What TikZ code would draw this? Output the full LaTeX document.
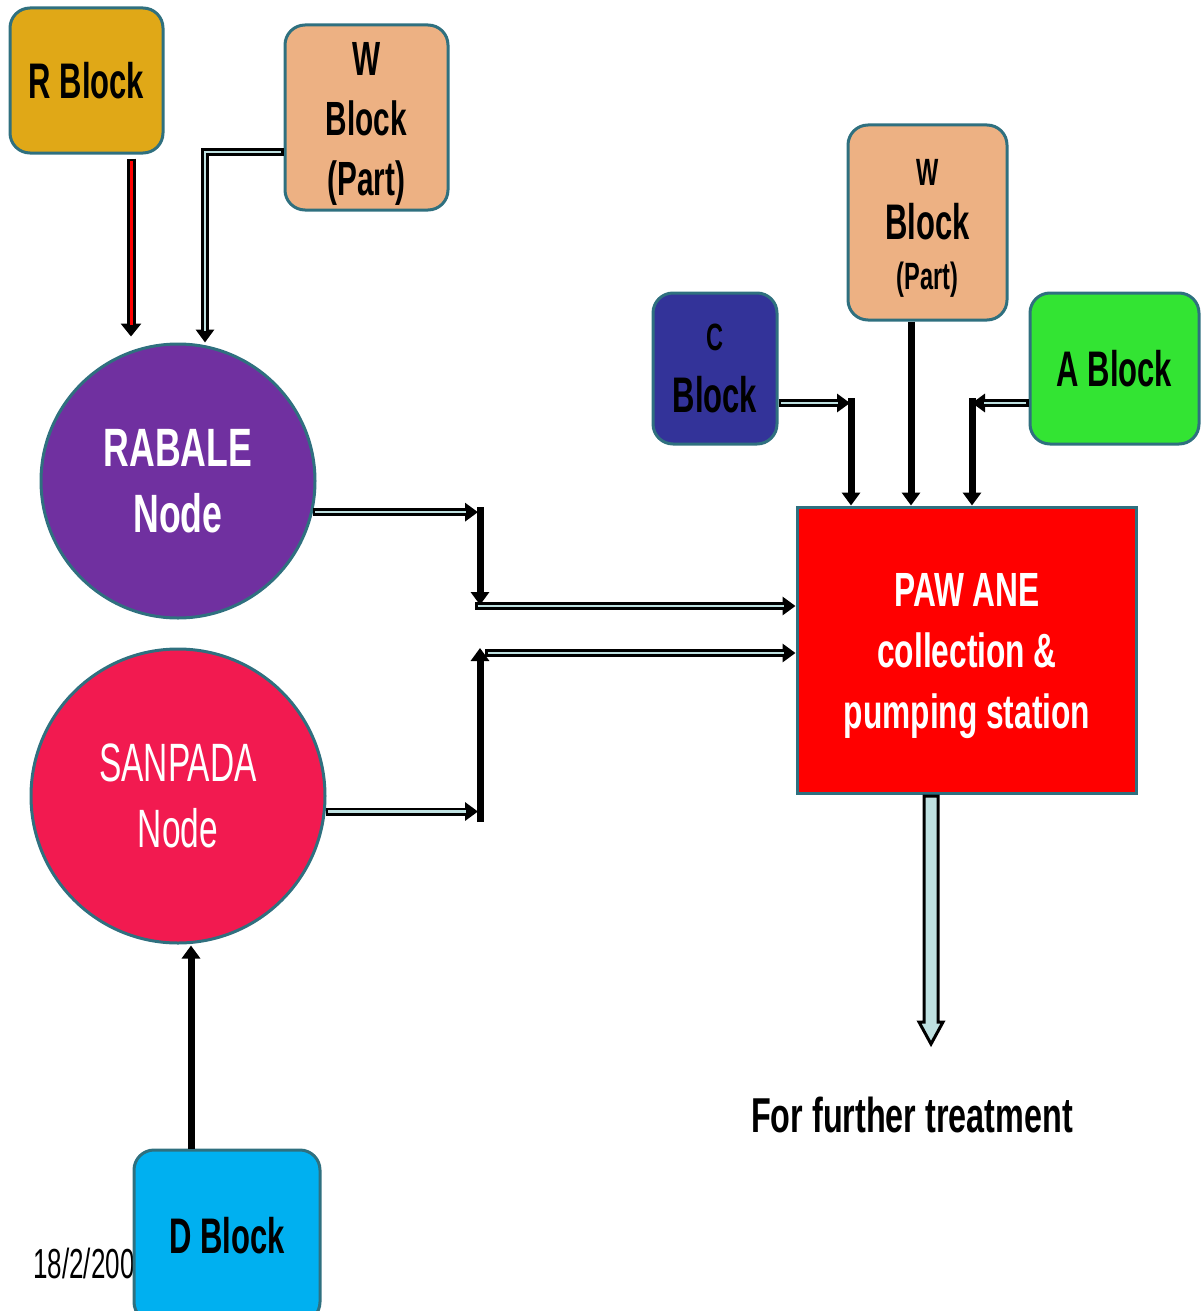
\documentclass[tikz,border=0pt]{standalone}
\usepackage{fontspec}
\setmainfont{Liberation Sans}
\newfontfamily\nf[FakeStretch=0.62]{Liberation Sans}
\newfontfamily\nfw[FakeStretch=0.66]{Liberation Sans}
\usetikzlibrary{arrows.meta,calc}
\definecolor{bord}{RGB}{47,112,127}
\definecolor{rgold}{RGB}{224,168,23}
\definecolor{peach}{RGB}{237,177,131}
\definecolor{rpurple}{RGB}{112,48,160}
\definecolor{rpink}{RGB}{242,26,80}
\definecolor{cblue}{RGB}{51,51,153}
\definecolor{agreen}{RGB}{51,228,51}
\definecolor{dblue}{RGB}{0,176,240}
\definecolor{acyan}{RGB}{190,225,225}
\begin{document}
\begin{tikzpicture}[x=1pt,y=-1pt,
  box/.style={draw=bord, line width=3pt, rounded corners=20pt, inner sep=0pt, align=center,
    font=\nf\bfseries\fontsize{50}{60}\selectfont},
  lbl/.style={inner sep=0pt, align=center},
  node circ/.style={circle, draw=bord, line width=3pt, inner sep=0pt, align=center, text=white,
    font=\nf\fontsize{54}{66}\selectfont},
  dconn/.style={line width=8pt, black, line join=miter, -{Triangle[length=13pt,width=18pt]},
    postaction={draw=acyan, line width=2.5pt, -, shorten >=12pt, shorten <=2.5pt}},
  rconn/.style={line width=9pt, black, -{Triangle[length=13pt,width=20pt]},
    postaction={draw=red, line width=3pt, -, shorten >=12pt, shorten <=2.5pt}},
  bar/.style={line width=7pt, black, -{Triangle[length=13pt,width=18pt]}},
  fat/.style={draw=black, line width=3pt, fill=acyan, line join=miter}
]
\useasboundingbox (0,0) rectangle (1201,1311);
\clip (0,0) rectangle (1201,1311);

% date (partly covered by D Block)
\node[anchor=base west, inner sep=0pt, font=\nf\fontsize{42}{50}\selectfont] (date) at (33,1278) {18/2/2009};

% blocks
\node[box, fill=rgold, minimum width=153pt, minimum height=145pt] (rb) at (86.5,80.5) {R Block};
\node[box, fill=peach, minimum width=163pt, minimum height=185pt] (wt) at (366.5,117.5) {};
\node[lbl, font=\nf\bfseries\fontsize{48}{60}\selectfont] (wttext) at (366.5,124) {W\\Block\\(Part)};
\node[box, fill=cblue, minimum width=124pt, minimum height=151pt] (cb) at (715,368.5)
   {{\fontsize{38}{44}\selectfont C}\\[2pt]Block};
\node[box, fill=peach, minimum width=159pt, minimum height=195pt] (wr) at (927.5,222.5) {};
\node[lbl, font=\nf\bfseries\fontsize{50}{56}\selectfont] (wrtext) at (927.5,228)
   {{\fontsize{38}{44}\selectfont W}\\[-2pt]Block\\[-6pt]{\fontsize{38}{46}\selectfont (Part)}};
\node[box, fill=agreen, minimum width=169pt, minimum height=151pt] (ab) at (1114.5,368.5) {A Block};
\node[box, fill=dblue, minimum width=186pt, minimum height=172pt] (db) at (227,1236) {D Block};

% circles
\node[node circ, fill=rpurple, minimum size=274pt, font=\nfw\bfseries\fontsize{54}{66}\selectfont] (rabale) at (178,481) {RABALE\\Node};
\node[node circ, fill=rpink, minimum size=294pt] (sanpada) at (178,796) {SANPADA\\Node};

% pumping station
\node[draw=bord, line width=3pt, fill=red, minimum width=339pt, minimum height=286pt, inner sep=0pt] (pw) at (966.5,650) {};
\node[lbl, text=white, font=\nfw\bfseries\fontsize{48}{61}\selectfont] (pwtext) at (967,656)
   {PAW\,ANE\\collection \&\\pumping station};

% final text
\node[font=\nfw\bfseries\fontsize{49}{60}\selectfont, inner sep=0pt] (further) at (912,1115) {For further treatment};

% junction coordinates
\coordinate (j1in) at (478,512);
\coordinate (j1top) at (480,507);
\coordinate (j1bot) at (480,605);
\coordinate (j1out) at (475,606);
\coordinate (j2in) at (478,810);
\coordinate (j2bot) at (480,822);
\coordinate (j2top) at (480,648);
\coordinate (j2out) at (485,653);
\coordinate (jc) at (850,403);
\coordinate (jctop) at (851,398);
\coordinate (ja) at (972,403);
\coordinate (jatop) at (972,398);

% connectors
\draw[rconn] ($(rb.south)+(44.5,4)$) -- ($(rabale.north)+(-47,-6)$);
\draw[dconn] ($(wt.west)+(0,34.5)$) -| ($(rabale.north)+(27,0)$);
\draw[dconn] (rabale.-13.5) -- (rabale.-13.5 -| j1in);
\draw[bar] (j1top) -- (j1bot);
\draw[dconn] (j1out) -- (j1out -| pw.west);
\draw[dconn] (sanpada.-6) -- (sanpada.-6 -| j2in);
\draw[bar] (j2bot) -- (j2top);
\draw[dconn] (j2out) -- (j2out -| pw.west);
\draw[dconn] ($(cb.east)+(0,34.5)$) -- (jc);
\draw[bar] (jctop) -- (jctop |- pw.north);
\draw[bar] ($(wr.south)+(-16.5,0)$) -- ($(pw.north)+(-55.5,0)$);
\draw[dconn] ($(ab.west)+(0,34.5)$) -- (ja);
\draw[bar] (jatop) -- (jatop |- pw.north);
\draw[bar] ($(db.north)+(-36,0)$) -- ($(sanpada.south)+(13,1)$);

% output arrow
\coordinate (outtop) at ($(pw.south)+(-35.5,1.5)$);
\coordinate (outtip) at ($(outtop)+(0,248)$);
\draw[fat] ($(outtop)+(-7,0)$) -- ($(outtip)+(-7,-22)$) -- ($(outtip)+(-12,-22)$) -- (outtip)
  -- ($(outtip)+(12,-22)$) -- ($(outtip)+(7,-22)$) -- ($(outtop)+(7,0)$) -- cycle;
\end{tikzpicture}
\end{document}
